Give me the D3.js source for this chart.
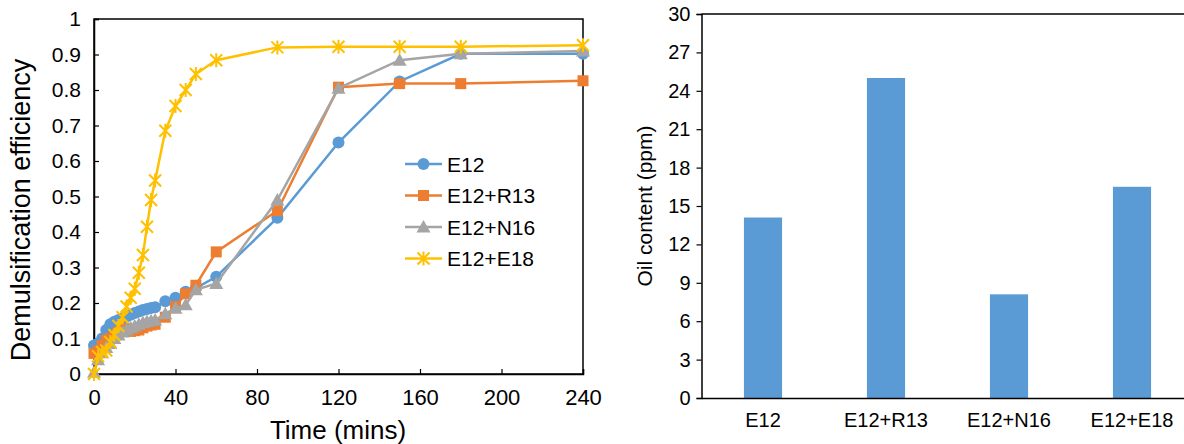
<!DOCTYPE html>
<html><head><meta charset="utf-8">
<script src="https://cdn.jsdelivr.net/npm/d3@7"></script>
<style>body{margin:0;background:#fff}svg{display:block;font-family:"Liberation Sans",Arial,sans-serif}</style>
</head><body><svg id="c" width="1184" height="444"></svg>
<script>
const times = [0,2,4,6,8,10,12,14,16,18,20,22,24,26,28,30,35,40,45,50,60,90,120,150,180,240];
const seriesNames = ["E12","E12+R13","E12+N16","E12+E18"];
const e12   = [0.08,0.086,0.10,0.124,0.14,0.147,0.152,0.157,0.162,0.167,0.172,0.176,0.18,0.183,0.186,0.188,0.205,0.215,0.232,0.242,0.274,0.44,0.652,0.824,0.902,0.902];
const r13   = [0.058,0.065,0.08,0.095,0.10,0.11,0.118,0.124,0.128,0.12,0.122,0.124,0.13,0.135,0.138,0.14,0.16,0.19,0.226,0.25,0.344,0.46,0.808,0.818,0.818,0.826];
const n16   = [0.005,0.04,0.06,0.075,0.086,0.1,0.11,0.118,0.124,0.13,0.135,0.14,0.145,0.148,0.15,0.152,0.17,0.185,0.195,0.237,0.255,0.49,0.805,0.884,0.902,0.91];
const e18   = [0.0,0.05,0.062,0.066,0.09,0.11,0.135,0.16,0.19,0.215,0.24,0.285,0.335,0.415,0.49,0.545,0.685,0.755,0.80,0.845,0.884,0.92,0.922,0.922,0.922,0.926];
const seriesValues = [e12,r13,n16,e18];
const seriesColors = ["#5B9BD5","#ED7D31","#A5A5A5","#FFC000"];
const xTicks = [0,40,80,120,160,200,240];
const yTicks = [0,0.1,0.2,0.3,0.4,0.5,0.6,0.7,0.8,0.9,1];

const barCats = ["E12","E12+R13","E12+N16","E12+E18"];
const barVals = [14.1,25.0,8.1,16.5];
const barTicks = [0,3,6,9,12,15,18,21,24,27,30];

const svg = d3.select("#c");
// ---------- left chart ----------
const L = {x0:94,x1:583,y0:374,y1:19};
const x = d3.scaleLinear().domain([0,240]).range([L.x0,L.x1]);
const y = d3.scaleLinear().domain([0,1]).range([L.y0,L.y1]);
const gL = svg.append("g");
gL.append("rect").attr("x",L.x0).attr("y",L.y1).attr("width",L.x1-L.x0).attr("height",L.y0-L.y1)
  .attr("fill","none").attr("stroke","#000").attr("stroke-width",1.5);
const xa = gL.append("g").attr("transform",`translate(0,${L.y0})`)
  .call(d3.axisBottom(x).tickValues(xTicks).tickSize(-5).tickPadding(15).tickFormat(d3.format("d")));
const ya = gL.append("g").attr("transform",`translate(${L.x0},0)`)
  .call(d3.axisLeft(y).tickValues(yTicks).tickSize(-5).tickPadding(13).tickFormat(d=>d===0||d===1?String(d):d3.format(".1f")(d)));
[xa,ya].forEach(a=>{a.select(".domain").attr("stroke","#000").attr("stroke-width",1.5);
  a.selectAll(".tick line").attr("stroke","#000").attr("stroke-width",1.2);
  a.selectAll("text").attr("fill","#000").attr("font-family","Liberation Sans, Arial");});
xa.selectAll("text").attr("font-size",22);
ya.selectAll("text").attr("font-size",21);
gL.append("text").attr("x",338).attr("y",439).attr("text-anchor","middle")
  .attr("font-size",26).text("Time (mins)");
gL.append("text").attr("transform",`translate(30,210) rotate(-90)`).attr("text-anchor","middle")
  .attr("font-size",27).text("Demulsification efficiency");

const line = d3.line().x((d,i)=>x(times[i])).y(d=>y(d));
function marker(g,type,color,cx,cy){
  if(type===0) g.append("circle").attr("cx",cx).attr("cy",cy).attr("r",6).attr("fill",color);
  else if(type===1) g.append("rect").attr("x",cx-5.5).attr("y",cy-5.5).attr("width",11).attr("height",11).attr("fill",color);
  else if(type===2) g.append("path").attr("d",`M${cx},${cy-7}L${cx+7},${cy+5.5}L${cx-7},${cy+5.5}Z`).attr("fill",color);
  else {
    const s=6;
    g.append("path").attr("d",`M${cx-s},${cy-s}L${cx+s},${cy+s}M${cx-s},${cy+s}L${cx+s},${cy-s}M${cx},${cy-s-1}L${cx},${cy+s+1}`)
      .attr("stroke",color).attr("stroke-width",2).attr("fill","none");
  }
}
seriesValues.forEach((vals,si)=>{
  const g = gL.append("g");
  g.append("path").datum(vals).attr("d",line).attr("fill","none").attr("stroke",seriesColors[si]).attr("stroke-width",2.5);
  vals.forEach((v,i)=>marker(g,si,seriesColors[si],x(times[i]),y(v)));
});
// legend
const lg = gL.append("g");
seriesNames.forEach((n,i)=>{
  const yy = 164 + i*31.5;
  lg.append("line").attr("x1",405).attr("x2",442).attr("y1",yy).attr("y2",yy).attr("stroke",seriesColors[i]).attr("stroke-width",2.5);
  marker(lg,i,seriesColors[i],423.5,yy);
  lg.append("text").attr("x",447).attr("y",yy+7.5).attr("font-size",21).text(n);
});

// ---------- right chart ----------
const R = {x0:701.5,x1:1193.5,y0:398,y1:14};
const xb = d3.scaleBand().domain(barCats).range([R.x0,R.x1]).paddingInner(0.69).paddingOuter(0.345);
const yb = d3.scaleLinear().domain([0,30]).range([R.y0,R.y1]);
const gR = svg.append("g");
gR.selectAll("rect.bar").data(barVals).enter().append("rect").attr("class","bar")
  .attr("x",(d,i)=>xb(barCats[i])).attr("width",xb.bandwidth())
  .attr("y",d=>yb(d)).attr("height",d=>R.y0-yb(d)).attr("fill","#5B9BD5");
gR.append("line").attr("x1",R.x0).attr("x2",R.x1).attr("y1",R.y1).attr("y2",R.y1).attr("stroke","#000").attr("stroke-width",1.5);
gR.append("line").attr("x1",R.x1).attr("x2",R.x1).attr("y1",R.y1).attr("y2",R.y0).attr("stroke","#000").attr("stroke-width",1.5);
const xba = gR.append("g").attr("transform",`translate(0,${R.y0})`).call(d3.axisBottom(xb).tickSize(0).tickPadding(15));
const yba = gR.append("g").attr("transform",`translate(${R.x0},0)`).call(d3.axisLeft(yb).tickValues(barTicks).tickSize(5).tickPadding(6));
[xba,yba].forEach(a=>{a.select(".domain").attr("stroke","#000").attr("stroke-width",1.5);
  a.selectAll(".tick line").attr("stroke","#000").attr("stroke-width",1.2);
  a.selectAll("text").attr("font-size",20).attr("fill","#000").attr("font-family","Liberation Sans, Arial");});
gR.append("text").attr("transform",`translate(652,${(R.y0+R.y1)/2}) rotate(-90)`).attr("text-anchor","middle")
  .attr("font-size",21).text("Oil content (ppm)");
</script></body></html>
